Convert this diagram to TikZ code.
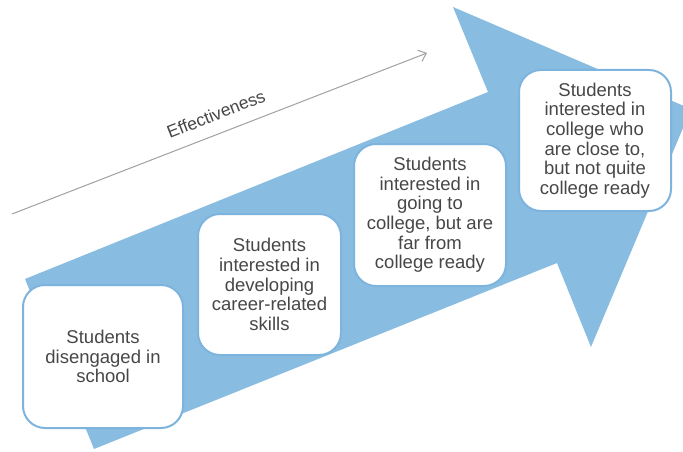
\documentclass[tikz,border=0pt]{standalone}
\usepackage{fontspec}
\setmainfont{Liberation Sans}
\usetikzlibrary{arrows.meta}
\definecolor{arrowblue}{HTML}{89BCE1}
\definecolor{boxblue}{HTML}{7DB4DE}
\definecolor{txtgray}{HTML}{474747}
\definecolor{linegray}{HTML}{A0A0A0}
\begin{document}
\begin{tikzpicture}[x=1pt,y=-1pt,
  stage/.style={draw=boxblue, line width=2pt, fill=white, rounded corners=22pt,
    align=center, text=txtgray, font=\fontsize{18.5}{19.6}\selectfont, inner sep=0pt},
  effline/.style={draw=linegray, line width=1pt, -{Straight Barb[length=7pt,width=12pt]}},
]
\useasboundingbox (0,0) rectangle (683,452);
\clip (0,0) rectangle (683,452);
% big arrow
\fill[arrowblue] (25,279) -- (488,92) -- (453,7) -- (691,109) -- (591,347) -- (557,263) -- (94,449) -- cycle;
% effectiveness arrow
\coordinate (e1) at (12,214);
\coordinate (e2) at (427,53);
\draw[effline] (e1) -- (e2);
\node[rotate=21.3, text=txtgray, font=\fontsize{17.5}{20}\selectfont] (eff) at (216,114) {Effectiveness};
% stages
\node[stage, minimum width=160pt, minimum height=143pt] (s1) at (103,356.5) {Students\\disengaged in\\school};
\node[stage, minimum width=143pt, minimum height=141pt] (s2) at (269.5,284.5) {Students\\interested in\\developing\\career-related\\skills};
\node[stage, minimum width=152pt, minimum height=142pt] (s3) at (430,215) {Students\\interested in\\going to\\college, but are\\far from\\college ready};
\node[stage, minimum width=152pt, minimum height=141pt] (s4) at (595,140.5) {Students\\interested in\\college who\\are close to,\\but not quite\\college ready};
\end{tikzpicture}
\end{document}
